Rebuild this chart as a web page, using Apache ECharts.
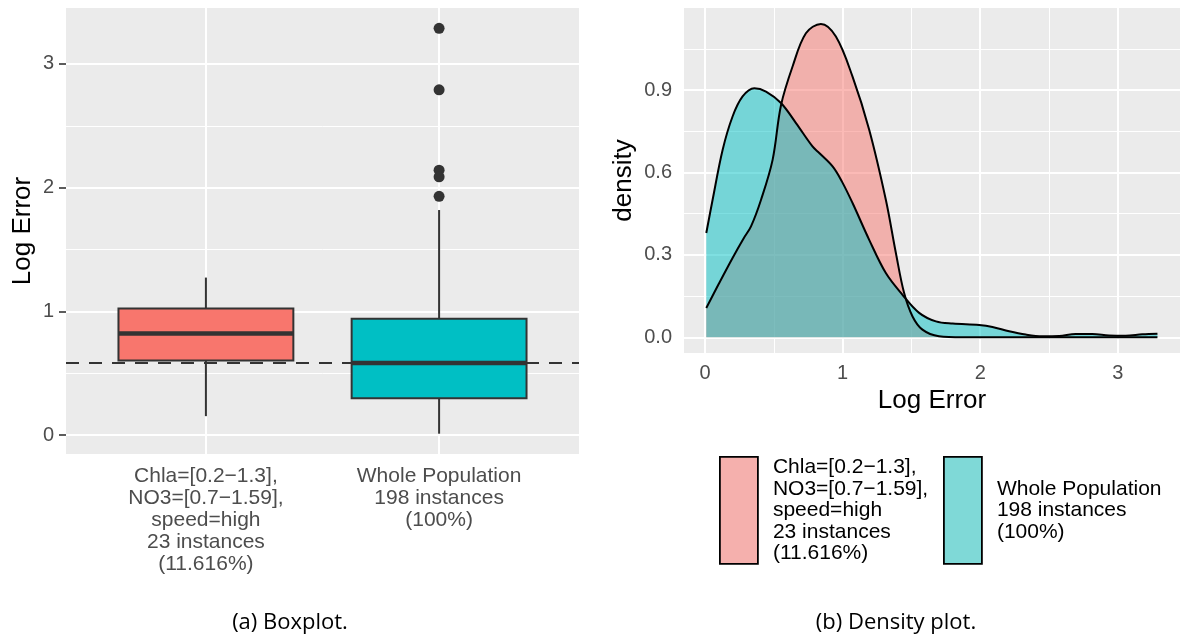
<!DOCTYPE html>
<html><head><meta charset="utf-8">
<script src="https://cdn.jsdelivr.net/npm/echarts@6/dist/echarts.min.js"></script>
<style>html,body{margin:0;padding:0;background:#fff}#c{width:1180px;height:642px}</style>
</head><body><div id="c"></div>
<script>
// ---------- data ----------
const boxCategories = [
  'Chla=[0.2\u22121.3],\nNO3=[0.7\u22121.59],\nspeed=high\n23 instances\n(11.616%)',
  'Whole Population\n198 instances\n(100%)'
];
const boxPositions = [1, 2];
// [lower whisker, Q1, median, Q3, upper whisker]
const boxSubgroup = [0.153, 0.602, 0.822, 1.023, 1.273];
const boxWhole = [0.011, 0.298, 0.583, 0.940, 1.819];
const wholeOutliers = [3.288, 2.791, 2.141, 2.087, 1.930];
const overallMedian = 0.583;
const boxYTicks = [0, 1, 2, 3];
const boxYMinor = [0.5, 1.5, 2.5];

const densityXTicks = [0, 1, 2, 3];
const densityXMinor = [0.5, 1.5, 2.5];
const densityYTicks = [0, 0.3, 0.6, 0.9];
const densityYMinor = [0.15, 0.45, 0.75, 1.05];

const subgroupX = [0.009, 0.1, 0.2, 0.28, 0.334, 0.407, 0.491, 0.552, 0.636, 0.733, 0.842, 0.951, 1.072, 1.193, 1.314, 1.387, 1.447, 1.508, 1.58, 1.70, 1.87, 2.5, 3.288];
const subgroupY = [0.107, 0.195, 0.289, 0.36, 0.404, 0.501, 0.646, 0.845, 0.986, 1.107, 1.141, 1.095, 0.949, 0.756, 0.501, 0.307, 0.161, 0.076, 0.028, 0.004, 0.0, 0.0, 0.0];
const wholeX = [0.009, 0.055, 0.128, 0.2, 0.273, 0.358, 0.443, 0.552, 0.661, 0.781, 0.83, 0.927, 0.996, 1.072, 1.193, 1.314, 1.435, 1.556, 1.678, 1.80, 1.992, 2.089, 2.21, 2.331, 2.452, 2.573, 2.694, 2.815, 2.936, 3.057, 3.178, 3.288];
const wholeY = [0.380, 0.501, 0.683, 0.804, 0.877, 0.907, 0.895, 0.853, 0.780, 0.695, 0.671, 0.622, 0.566, 0.489, 0.355, 0.234, 0.155, 0.089, 0.058, 0.050, 0.045, 0.038, 0.022, 0.010, 0.004, 0.005, 0.012, 0.012, 0.007, 0.006, 0.011, 0.013];

const legendNames = [
  'Chla=[0.2\u22121.3],\nNO3=[0.7\u22121.59],\nspeed=high\n23 instances\n(11.616%)',
  'Whole Population\n198 instances\n(100%)'
];
const captions = ['(a) Boxplot.', '(b) Density plot.'];

// ---------- styles ----------
const FONT = "'Liberation Sans', Arial, Helvetica, sans-serif";
const RED = '#F8766D', TEAL = '#00BFC4';
const boxFills = [RED, TEAL];

const chart = echarts.init(document.getElementById('c'), null, {renderer: 'canvas'});

function gridLines(vals, axis, width) {
  return vals.map(v => ({[axis]: v, lineStyle: {color: '#fff', width: width, type: 'solid'}}));
}

const tickStyle = {lineStyle: {color: '#333', width: 1.6}, length: 7};

const option = {
  backgroundColor: '#fff',
  animation: false,
  grid: [
    {left: 66, top: 8, width: 513, height: 446, show: true, backgroundColor: '#EBEBEB', borderWidth: 0},
    {left: 684, top: 8, width: 496, height: 345, show: true, backgroundColor: '#EBEBEB', borderWidth: 0}
  ],
  xAxis: [
    {gridIndex: 0, type: 'value', min: 0.4, max: 2.6,
     axisLine: {show: false}, splitLine: {show: false},
     axisTick: Object.assign({customValues: boxPositions}, tickStyle),
     axisLabel: {customValues: boxPositions, formatter: v => boxCategories[boxPositions.indexOf(Math.round(v))],
       color: '#4D4D4D', fontSize: 21, lineHeight: 22, margin: 11, fontFamily: FONT, align: 'center'}},
    {gridIndex: 1, type: 'value', min: -0.153, max: 3.452,
     axisLine: {show: false}, splitLine: {show: false},
     axisTick: Object.assign({customValues: densityXTicks}, tickStyle),
     axisLabel: {customValues: densityXTicks, color: '#4D4D4D', fontSize: 20, margin: 10, fontFamily: FONT},
     name: 'Log Error', nameLocation: 'middle', nameGap: 34,
     nameTextStyle: {fontSize: 26, color: '#000', fontFamily: FONT}}
  ],
  yAxis: [
    {gridIndex: 0, type: 'value', min: -0.153, max: 3.452,
     axisLine: {show: false}, splitLine: {show: false},
     axisTick: Object.assign({customValues: boxYTicks}, tickStyle),
     axisLabel: {customValues: boxYTicks, color: '#4D4D4D', fontSize: 20, margin: 12, fontFamily: FONT},
     name: 'Log Error', nameLocation: 'middle', nameGap: 30,
     nameTextStyle: {fontSize: 26, color: '#000', fontFamily: FONT}},
    {gridIndex: 1, type: 'value', min: -0.057, max: 1.199,
     axisLine: {show: false}, splitLine: {show: false},
     axisTick: Object.assign({customValues: densityYTicks}, tickStyle),
     axisLabel: {customValues: densityYTicks, formatter: v => v.toFixed(1), color: '#4D4D4D', fontSize: 20, margin: 12, fontFamily: FONT},
     name: 'density', nameLocation: 'middle', nameGap: 47,
     nameTextStyle: {fontSize: 26, color: '#000', fontFamily: FONT}}
  ],
  legend: [
    {left: 719, top: 456, padding: 0, itemWidth: 38, itemHeight: 107, selectedMode: false, orient: 'horizontal',
     data: [{name: legendNames[0], icon: 'rect', itemStyle: {color: '#F5B0AD', borderColor: '#000', borderWidth: 1.8, opacity: 1}}],
     textStyle: {fontSize: 21, lineHeight: 21.5, color: '#000', fontFamily: FONT, padding: [0, 0, 0, 10]}},
    {left: 943, top: 456, padding: 0, itemWidth: 38, itemHeight: 107, selectedMode: false, orient: 'horizontal',
     data: [{name: legendNames[1], icon: 'rect', itemStyle: {color: '#7FD9D7', borderColor: '#000', borderWidth: 1.8, opacity: 1}}],
     textStyle: {fontSize: 21, lineHeight: 21.5, color: '#000', fontFamily: FONT, padding: [0, 0, 0, 10]}}
  ],
  graphic: [
    {type: 'text', x: 290, y: 623, style: {text: captions[0], font: "22px 'Open Sans', sans-serif", fill: '#000', textAlign: 'center', textVerticalAlign: 'middle'}},
    {type: 'text', x: 896, y: 623, style: {text: captions[1], font: "22px 'Open Sans', sans-serif", fill: '#000', textAlign: 'center', textVerticalAlign: 'middle'}}
  ],
  series: [
    // grid lines, left panel
    {type: 'line', xAxisIndex: 0, yAxisIndex: 0, data: [], z: 1, silent: true,
     markLine: {z: 1, silent: true, symbol: 'none', label: {show: false}, animation: false,
       data: [].concat(gridLines(boxYMinor, 'yAxis', 1), gridLines(boxYTicks, 'yAxis', 2), gridLines(boxPositions, 'xAxis', 2))}},
    // grid lines, right panel
    {type: 'line', xAxisIndex: 1, yAxisIndex: 1, data: [], z: 1, silent: true,
     markLine: {z: 1, silent: true, symbol: 'none', label: {show: false}, animation: false,
       data: [].concat(gridLines(densityYMinor, 'yAxis', 1), gridLines(densityXMinor, 'xAxis', 1),
                       gridLines(densityYTicks, 'yAxis', 2), gridLines(densityXTicks, 'xAxis', 2))}},
    // boxes
    {type: 'custom', xAxisIndex: 0, yAxisIndex: 0, z: 3,
     data: [[boxPositions[0]].concat(boxSubgroup), [boxPositions[1]].concat(boxWhole)],
     encode: {x: 0, y: [1, 2, 3, 4, 5]},
     renderItem: function (params, api) {
       const x = api.value(0);
       const lo = api.coord([x, api.value(1)]);
       const q1 = api.coord([x, api.value(2)]);
       const md = api.coord([x, api.value(3)]);
       const q3 = api.coord([x, api.value(4)]);
       const hi = api.coord([x, api.value(5)]);
       const half = api.size([0.75, 0])[0] / 2;
       const st = {stroke: '#333', lineWidth: 2};
       return {type: 'group', children: [
         {type: 'line', shape: {x1: hi[0], y1: hi[1], x2: q3[0], y2: q3[1]}, style: st},
         {type: 'line', shape: {x1: q1[0], y1: q1[1], x2: lo[0], y2: lo[1]}, style: st},
         {type: 'rect', shape: {x: q3[0] - half, y: q3[1], width: 2 * half, height: q1[1] - q3[1]},
          style: {fill: boxFills[params.dataIndex], stroke: '#333', lineWidth: 2}},
         {type: 'line', shape: {x1: md[0] - half, y1: md[1], x2: md[0] + half, y2: md[1]}, style: {stroke: '#333', lineWidth: 4.5}}
       ]};
     }},
    // outliers
    {type: 'scatter', xAxisIndex: 0, yAxisIndex: 0, z: 4, symbolSize: 11,
     itemStyle: {color: '#333', opacity: 1},
     data: wholeOutliers.map(v => [boxPositions[1], v])},
    // dashed reference line
    {type: 'line', xAxisIndex: 0, yAxisIndex: 0, z: 5, symbol: 'none',
     lineStyle: {color: '#333', width: 2, type: [13, 10]},
     data: [[0.4, overallMedian], [2.6, overallMedian]]},
    // densities
    {name: legendNames[0], type: 'line', xAxisIndex: 1, yAxisIndex: 1, z: 3, symbol: 'none', smooth: 0.35,
     lineStyle: {color: '#000', width: 2}, itemStyle: {color: RED},
     areaStyle: {color: RED, opacity: 0.5},
     data: subgroupX.map((x, i) => [x, subgroupY[i]])},
    {name: legendNames[1], type: 'line', xAxisIndex: 1, yAxisIndex: 1, z: 3, symbol: 'none', smooth: 0.35,
     lineStyle: {color: '#000', width: 2}, itemStyle: {color: TEAL},
     areaStyle: {color: TEAL, opacity: 0.5},
     data: wholeX.map((x, i) => [x, wholeY[i]])}
  ]
};
chart.setOption(option);
</script>
</body></html>
